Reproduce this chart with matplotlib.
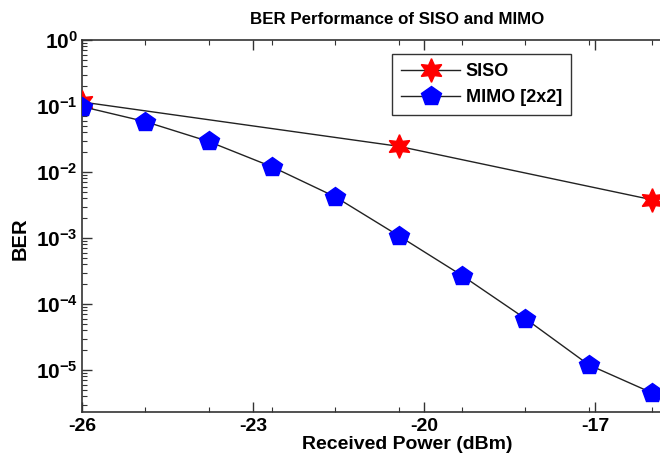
import numpy as np
import matplotlib
matplotlib.use("Agg")
import matplotlib.pyplot as plt
from matplotlib.ticker import FixedLocator, LogLocator, NullFormatter, FuncFormatter

plt.rcParams['font.family'] = ['Liberation Sans', 'DejaVu Sans']
plt.rcParams['mathtext.fontset'] = 'custom'
plt.rcParams['mathtext.rm'] = 'Liberation Sans:bold'
plt.rcParams['mathtext.bf'] = 'Liberation Sans:bold'

# received power (dBm), 10 points from -26 to -16
power = [-26.0, -24.889, -23.778, -22.667, -21.556, -20.444, -19.333, -18.222, -17.111, -16.0]
ber_mimo = [0.098, 0.058, 0.029, 0.012, 0.0042, 0.00108, 2.7e-4, 6.0e-5, 1.2e-5, 4.5e-6]

power_siso = [-26.0, -20.444, -16.0]
ber_siso = [0.115, 0.0245, 0.0038]

xticks = [-26, -23, -20, -17]

fig = plt.figure(figsize=(6.6, 4.59), dpi=100)
ax = fig.add_axes([82/660, 47/459, 627/660, 372/459])

ax.plot(power_siso, ber_siso, color='#222222', lw=1.0, marker=(6, 1, 0),
        ms=17, mfc='red', mec='red', label='SISO', zorder=3)
ax.plot(power, ber_mimo, color='#222222', lw=1.0, marker='p',
        ms=15, mfc='blue', mec='blue', label='MIMO [2x2]', zorder=3)

ax.set_yscale('log')
ax.set_xlim(-26, -15)
ax.set_ylim(2.31e-6, 1)

ax.set_xticks(xticks)
ax.set_xticklabels([str(t) for t in xticks], fontweight='bold', fontsize=14)
ax.xaxis.set_minor_locator(FixedLocator(power))
ax.yaxis.set_major_locator(LogLocator(base=10, numticks=10))
ax.yaxis.set_major_formatter(FuncFormatter(
    lambda v, p: r'$\mathbf{10^{%d}}$' % int(round(np.log10(v)))))
ax.yaxis.set_minor_locator(LogLocator(base=10, subs=np.arange(2, 10), numticks=20))
ax.yaxis.set_minor_formatter(NullFormatter())
ax.tick_params(axis='y', labelsize=15, pad=3)

ax.tick_params(which='both', direction='in', top=True, right=True, color='#333333')
ax.tick_params(which='major', length=7, width=1.0)
ax.tick_params(axis='x', pad=4)
ax.tick_params(which='minor', length=3.5, width=0.8)

for s in ax.spines.values():
    s.set_color('#333333')
    s.set_linewidth(1.2)

ax.set_xlabel('Received Power (dBm)', fontweight='bold', fontsize=14)
ax.xaxis.set_label_coords(0.518, -0.064)
ax.set_ylabel('BER', fontweight='bold', fontsize=14.5)
ax.yaxis.set_label_coords(-0.084, 0.465)

ax.text(0.502, 1.043, 'BER Performance of SISO and MIMO', transform=ax.transAxes,
        ha='center', va='baseline', fontsize=12.2, fontweight='bold')

leg = ax.legend(loc='upper left', bbox_to_anchor=(0.494, 0.962), borderaxespad=0,
                prop={'weight': 'bold', 'size': 13}, handlelength=3.3,
                fancybox=False, framealpha=1, markerscale=1.0,
                edgecolor='#333333', borderpad=0.5, labelspacing=0.5,
                handletextpad=0.3)
leg.get_frame().set_linewidth(1.0)

fig.savefig('out.png', dpi=100)
